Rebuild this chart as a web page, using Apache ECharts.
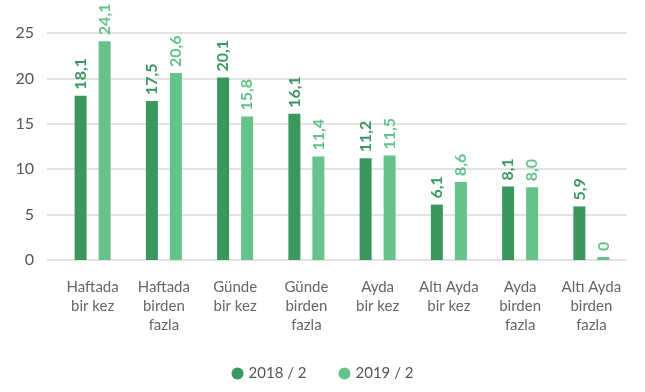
<!DOCTYPE html>
<html>
<head>
<meta charset="utf-8">
<script src="https://cdn.jsdelivr.net/npm/echarts@6/dist/echarts.min.js"></script>
<style>
  html, body { margin: 0; padding: 0; background: #fff; }
  #chart { width: 645px; height: 392px; }
</style>
</head>
<body>
<div id="chart"></div>
<script>
// Frequency categories and the two survey waves
const categories = [
  'Haftada\nbir kez',
  'Haftada\nbirden\nfazla',
  'Günde\nbir kez',
  'Günde\nbirden\nfazla',
  'Ayda\nbir kez',
  'Altı Ayda\nbir kez',
  'Ayda\nbirden\nfazla',
  'Altı Ayda\nbirden\nfazla'
];
const seriesNames = ['2018 / 2', '2019 / 2'];
const values2018 = [18.1, 17.5, 20.1, 16.1, 11.2, 6.1, 8.1, 5.9];
const values2019 = [24.1, 20.6, 15.8, 11.4, 11.5, 8.6, 8.0, 0];
const yTicks = [0, 5, 10, 15, 20, 25];

const darkGreen = '#3a985e';
const lightGreen = '#64c28a';
const fontFamily = 'Lato, "Open Sans", sans-serif';

function fmt(v) {
  return v === 0 ? '0' : v.toFixed(1).replace('.', ',');
}

function barSeries(name, data, color) {
  return {
    name: name,
    type: 'bar',
    xAxisIndex: 1,
    yAxisIndex: 1,
    data: data,
    barWidth: 12,
    barGap: '100%',
    barMinHeight: 3,
    itemStyle: { color: color },
    label: {
      show: true,
      position: 'top',
      rotate: 90,
      align: 'left',
      verticalAlign: 'middle',
      distance: 6,
      color: color,
      fontFamily: fontFamily,
      fontSize: 16,
      fontWeight: 'bold',
      formatter: p => fmt(p.value)
    }
  };
}

const chart = echarts.init(document.getElementById('chart'));
chart.setOption({
  animation: false,
  legend: {
    data: seriesNames,
    bottom: 6,
    left: 'center',
    icon: 'circle',
    itemWidth: 12,
    itemHeight: 12,
    itemGap: 32,
    textStyle: { color: '#555', fontSize: 15, fontFamily: fontFamily }
  },
  grid: [
    { left: 47, right: 18, top: 33, bottom: 132 },
    { left: 57, right: 18, top: 33, bottom: 132 }
  ],
  xAxis: [
    { type: 'value', gridIndex: 0, show: false },
    {
      type: 'category',
      gridIndex: 1,
      data: categories,
      axisLine: { show: false },
      axisTick: { show: false },
      axisLabel: {
        interval: 0,
        margin: 18,
        color: '#666',
        fontSize: 15,
        lineHeight: 19,
        fontFamily: fontFamily
      }
    }
  ],
  yAxis: [
    {
      type: 'value',
      gridIndex: 0,
      min: yTicks[0],
      max: yTicks[yTicks.length - 1],
      interval: 5,
      axisLine: { show: false },
      axisTick: { show: false },
      axisLabel: { margin: 13, color: '#555', fontSize: 16, fontFamily: fontFamily },
      splitLine: { lineStyle: { color: '#d9d9d9', width: 1.5 } }
    },
    {
      type: 'value',
      gridIndex: 1,
      min: yTicks[0],
      max: yTicks[yTicks.length - 1],
      interval: 5,
      show: false,
      splitLine: { show: false }
    }
  ],
  series: [
    barSeries(seriesNames[0], values2018, darkGreen),
    barSeries(seriesNames[1], values2019, lightGreen)
  ]
});
</script>
</body>
</html>
